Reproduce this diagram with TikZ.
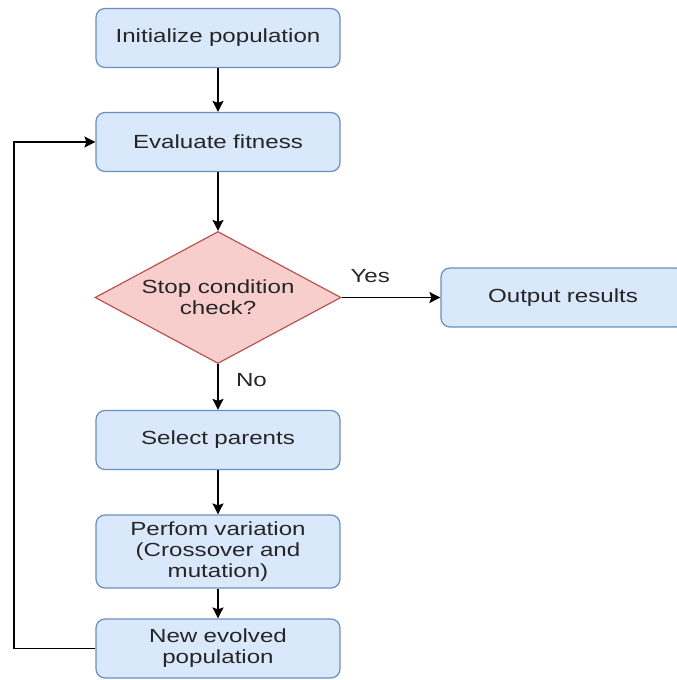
\documentclass[tikz,border=0pt]{standalone}
\usepackage{fontspec}
\setmainfont{Liberation Sans}[FakeStretch=1.27]
\usetikzlibrary{shapes.geometric,arrows.meta}
\definecolor{boxfill}{HTML}{DAE8FC}
\definecolor{boxline}{HTML}{6C8EBF}
\definecolor{decfill}{HTML}{F8CECC}
\definecolor{decline}{HTML}{B85450}
\definecolor{ink}{HTML}{262626}
\begin{document}
\begin{tikzpicture}[x=1pt,y=-1pt,
  every node/.style={font=\fontsize{19}{21}\selectfont, text=ink},
  stepbox/.style={draw=boxline, fill=boxfill, line width=1.2pt, rounded corners=9pt,
    minimum width=244pt, minimum height=59pt, inner sep=0pt, align=center, text width=230pt},
  decision/.style={diamond, aspect=1.86, draw=decline, fill=decfill, line width=1.2pt,
    minimum width=246pt, minimum height=132pt, inner sep=0pt, align=center},
  flow/.style={draw=black, line width=1.4pt, -{Stealth[length=11pt,width=11pt,inset=2pt]}},
  lbl/.style={font=\fontsize{19}{21}\selectfont}
]
\useasboundingbox (0,0) rectangle (677,680);

% main column of steps
\node[stepbox] (init) at (218,38) {Initialize population};
\node[stepbox] (eval) at (218,142) {Evaluate fitness};
\node[decision] (stop) at (218,297.5) {Stop condition\\check?};
\node[stepbox] (out) at (563,297.5) {Output results};
\node[stepbox] (sel) at (218,440) {Select parents};
\node[stepbox, minimum height=73pt] (var) at (218,551.5) {Perfom variation\\(Crossover and\\mutation)};
\node[stepbox] (new) at (218,648.5) {New evolved\\population};

% connectors
\draw[flow] (init) -- (eval);
\draw[flow] (eval) -- (stop);
\draw[flow] (stop.east) -- node[lbl, pos=0.29, above=11pt] {Yes} (out.west);
\draw[flow] (stop.south) -- node[lbl, pos=0.35, right=14pt] {No} (sel.north);
\draw[flow] (sel) -- (var);
\draw[flow] (var) -- (new);

% feedback loop back to the evaluation step
\coordinate (loopx) at (14,0);
\draw[flow] (new.west) -- (new.west -| loopx) -- (eval.west -| loopx) -- (eval.west);
\end{tikzpicture}
\end{document}
